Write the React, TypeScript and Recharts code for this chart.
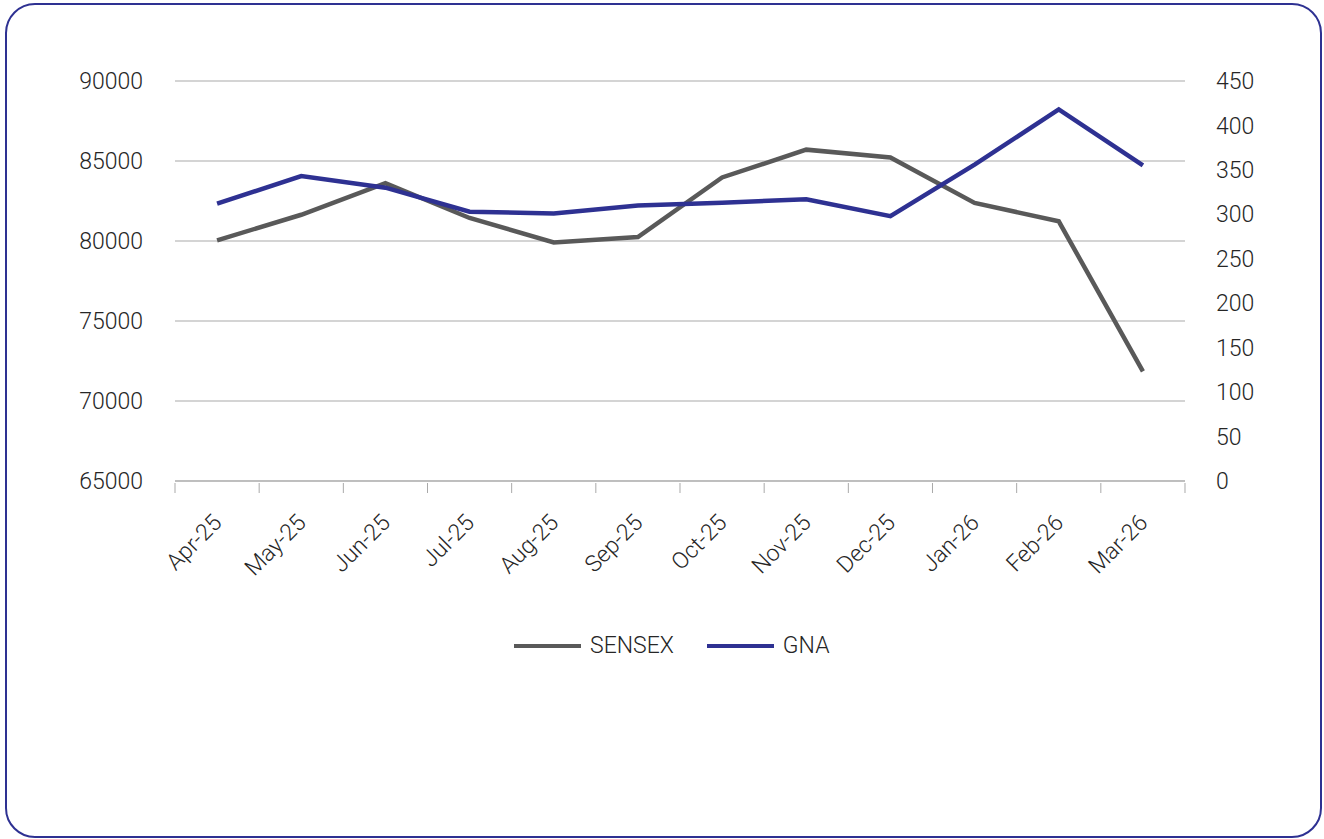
import React from 'react';
import { LineChart, Line, XAxis, YAxis, CartesianGrid, Legend } from 'recharts';

const months = ['Apr-25', 'May-25', 'Jun-25', 'Jul-25', 'Aug-25', 'Sep-25', 'Oct-25', 'Nov-25', 'Dec-25', 'Jan-26', 'Feb-26', 'Mar-26'];
const sensex = [80040, 81640, 83620, 81440, 79910, 80250, 83970, 85710, 85220, 82380, 81230, 71850];
const gna = [312, 343, 330, 303, 301, 310, 313, 317, 298, 356, 418, 355];
const seriesOrder = ['SENSEX', 'GNA'];
const leftTicks = [65000, 70000, 75000, 80000, 85000, 90000];
const rightTicks = [0, 50, 100, 150, 200, 250, 300, 350, 400, 450];

const data = months.map((m, i) => ({ month: m, SENSEX: sensex[i], GNA: gna[i] }));

const FONT = 'Roboto, "Noto Sans", sans-serif';
const TEXT = '#262626';
const AXIS = '#a9a9a9';

const XTick = (props: any) => {
  const { x, y, payload, index, visibleTicksCount } = props;
  const half = payload && payload.offset ? payload.offset : 42;
  const isLast = index === (visibleTicksCount ?? months.length) - 1;
  return (
    <g transform={`translate(${x},${y})`}>
      <line x1={-half} y1={0} x2={-half} y2={10} stroke={AXIS} strokeWidth={1} />
      {isLast && <line x1={half} y1={0} x2={half} y2={10} stroke={AXIS} strokeWidth={1} />}
      <text
        transform="translate(6,41) rotate(-45)"
        textAnchor="end"
        fill={TEXT}
        fontSize={23}
        fontWeight={300}
        fontFamily={FONT}
      >
        {payload.value}
      </text>
    </g>
  );
};

const LegendContent = (props: any) => {
  const payload = [...(props.payload || [])].sort(
    (a: any, b: any) => seriesOrder.indexOf(a.value) - seriesOrder.indexOf(b.value)
  );
  return (
    <div style={{ display: 'flex', alignItems: 'center', fontFamily: FONT, fontWeight: 300, fontSize: 23, color: TEXT }}>
      {payload.map((p: any, i: number) => (
        <div key={i} style={{ display: 'flex', alignItems: 'center', marginRight: 33 }}>
          <svg width={67} height={6} style={{ marginRight: 9 }}>
            <line x1={0} y1={3} x2={67} y2={3} stroke={p.color} strokeWidth={4} />
          </svg>
          <span>{p.value}</span>
        </div>
      ))}
    </div>
  );
};

export default function App() {
  return (
    <div style={{ position: 'absolute', left: 0, top: 0, width: 1324, height: 839, background: '#fff', overflow: 'hidden' }}>
      <div
        style={{
          position: 'absolute',
          left: 5,
          top: 3,
          width: 1317,
          height: 835,
          boxSizing: 'border-box',
          border: '2px solid #2e3192',
          borderRadius: 30,
        }}
      />
      <div style={{ position: 'absolute', left: 0, top: 0 }}>
        <LineChart
          width={1324}
          height={839}
          data={data}
          margin={{ top: 81, right: 59, bottom: 258, left: 75 }}
        >
          <CartesianGrid yAxisId="left" vertical={false} stroke={AXIS} strokeWidth={1} />
          <XAxis
            dataKey="month"
            scale="band"
            interval={0}
            height={100}
            tickSize={0}
            tickLine={false}
            axisLine={{ stroke: AXIS, strokeWidth: 1 }}
            tick={<XTick />}
          />
          <YAxis
            yAxisId="left"
            orientation="left"
            width={100}
            domain={[65000, 90000]}
            ticks={leftTicks}
            axisLine={false}
            tickLine={false}
            tickSize={0}
            tickMargin={32}
            tick={{ fill: TEXT, fontSize: 23, fontWeight: 300, fontFamily: FONT }}
          />
          <YAxis
            yAxisId="right"
            orientation="right"
            width={80}
            domain={[0, 450]}
            ticks={rightTicks}
            axisLine={false}
            tickLine={false}
            tickSize={0}
            tickMargin={31}
            tick={{ fill: TEXT, fontSize: 23, fontWeight: 300, fontFamily: FONT }}
          />
          <Legend
            layout="horizontal"
            verticalAlign="middle"
            align="center"
            content={<LegendContent />}
            wrapperStyle={{ position: 'absolute', left: 514, top: 632, width: 'auto' }}
          />
          <Line
            yAxisId="left"
            type="linear"
            dataKey="SENSEX"
            stroke="#595959"
            strokeWidth={4.5}
            dot={false}
            isAnimationActive={false}
          />
          <Line
            yAxisId="right"
            type="linear"
            dataKey="GNA"
            stroke="#2e3192"
            strokeWidth={4.5}
            dot={false}
            isAnimationActive={false}
          />
        </LineChart>
      </div>
    </div>
  );
}
